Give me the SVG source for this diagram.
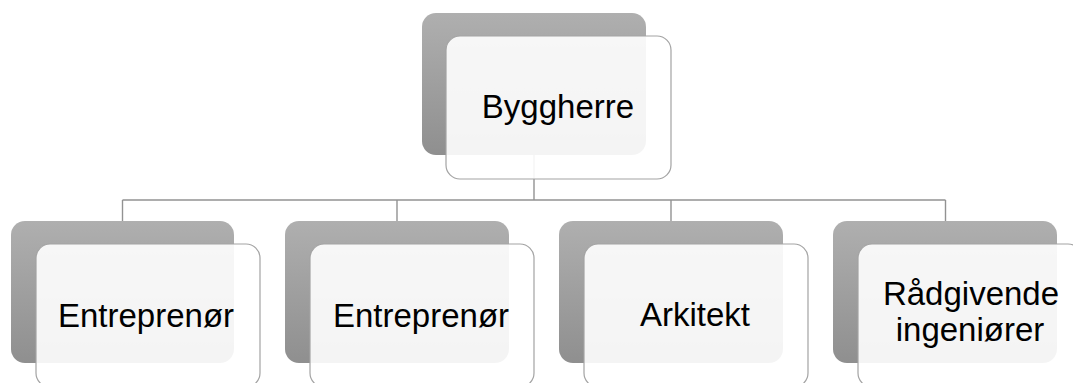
<svg xmlns="http://www.w3.org/2000/svg" width="1073" height="383" viewBox="0 0 1073 383">
  <defs>
    <linearGradient id="shade" x1="0" y1="0" x2="0" y2="1">
      <stop offset="0" stop-color="#afafaf"/>
      <stop offset="1" stop-color="#8f8f8f"/>
    </linearGradient>
    <style>
      .back { fill: url(#shade); }
      .front { fill: #ffffff; fill-opacity: 0.9; stroke: #a3a3a3; stroke-width: 1.2; }
      .link { fill: none; stroke: #929292; stroke-width: 1.4; }
      .label { font-family: "Liberation Sans", Arial, sans-serif; font-size: 33px; fill: #000000; text-anchor: middle; }
    </style>
  </defs>

  <!-- org chart connectors -->
  <g id="connectors">
    <path class="link" d="M534 155 V200"/>
    <path class="link" d="M122.5 200 H945.5"/>
    <path class="link" d="M122.5 200 V221"/>
    <path class="link" d="M397 200 V221"/>
    <path class="link" d="M671 200 V221"/>
    <path class="link" d="M945.5 200 V221"/>
  </g>

  <g id="node-byggherre">
    <rect class="back" x="422" y="13" width="224" height="142" rx="14"/>
    <rect class="front" x="446" y="36" width="225" height="143" rx="14"/>
    <text class="label" x="558" y="118">Byggherre</text>
  </g>

  <g id="node-entreprenor-1">
    <rect class="back" x="11" y="221" width="223" height="142" rx="14"/>
    <rect class="front" x="36" y="244" width="224" height="143" rx="14"/>
    <text class="label" x="146" y="327">Entreprenør</text>
  </g>

  <g id="node-entreprenor-2">
    <rect class="back" x="285" y="221" width="224" height="142" rx="14"/>
    <rect class="front" x="310" y="244" width="224" height="143" rx="14"/>
    <text class="label" x="421" y="327">Entreprenør</text>
  </g>

  <g id="node-arkitekt">
    <rect class="back" x="559" y="221" width="224" height="142" rx="14"/>
    <rect class="front" x="584" y="244" width="224" height="143" rx="14"/>
    <text class="label" x="695" y="326">Arkitekt</text>
  </g>

  <g id="node-radgivende">
    <rect class="back" x="833" y="221" width="224" height="142" rx="14"/>
    <rect class="front" x="858" y="244" width="224" height="143" rx="14"/>
    <text class="label" x="971" y="305">Rådgivende</text>
    <text class="label" x="970" y="341">ingeniører</text>
  </g>
</svg>
